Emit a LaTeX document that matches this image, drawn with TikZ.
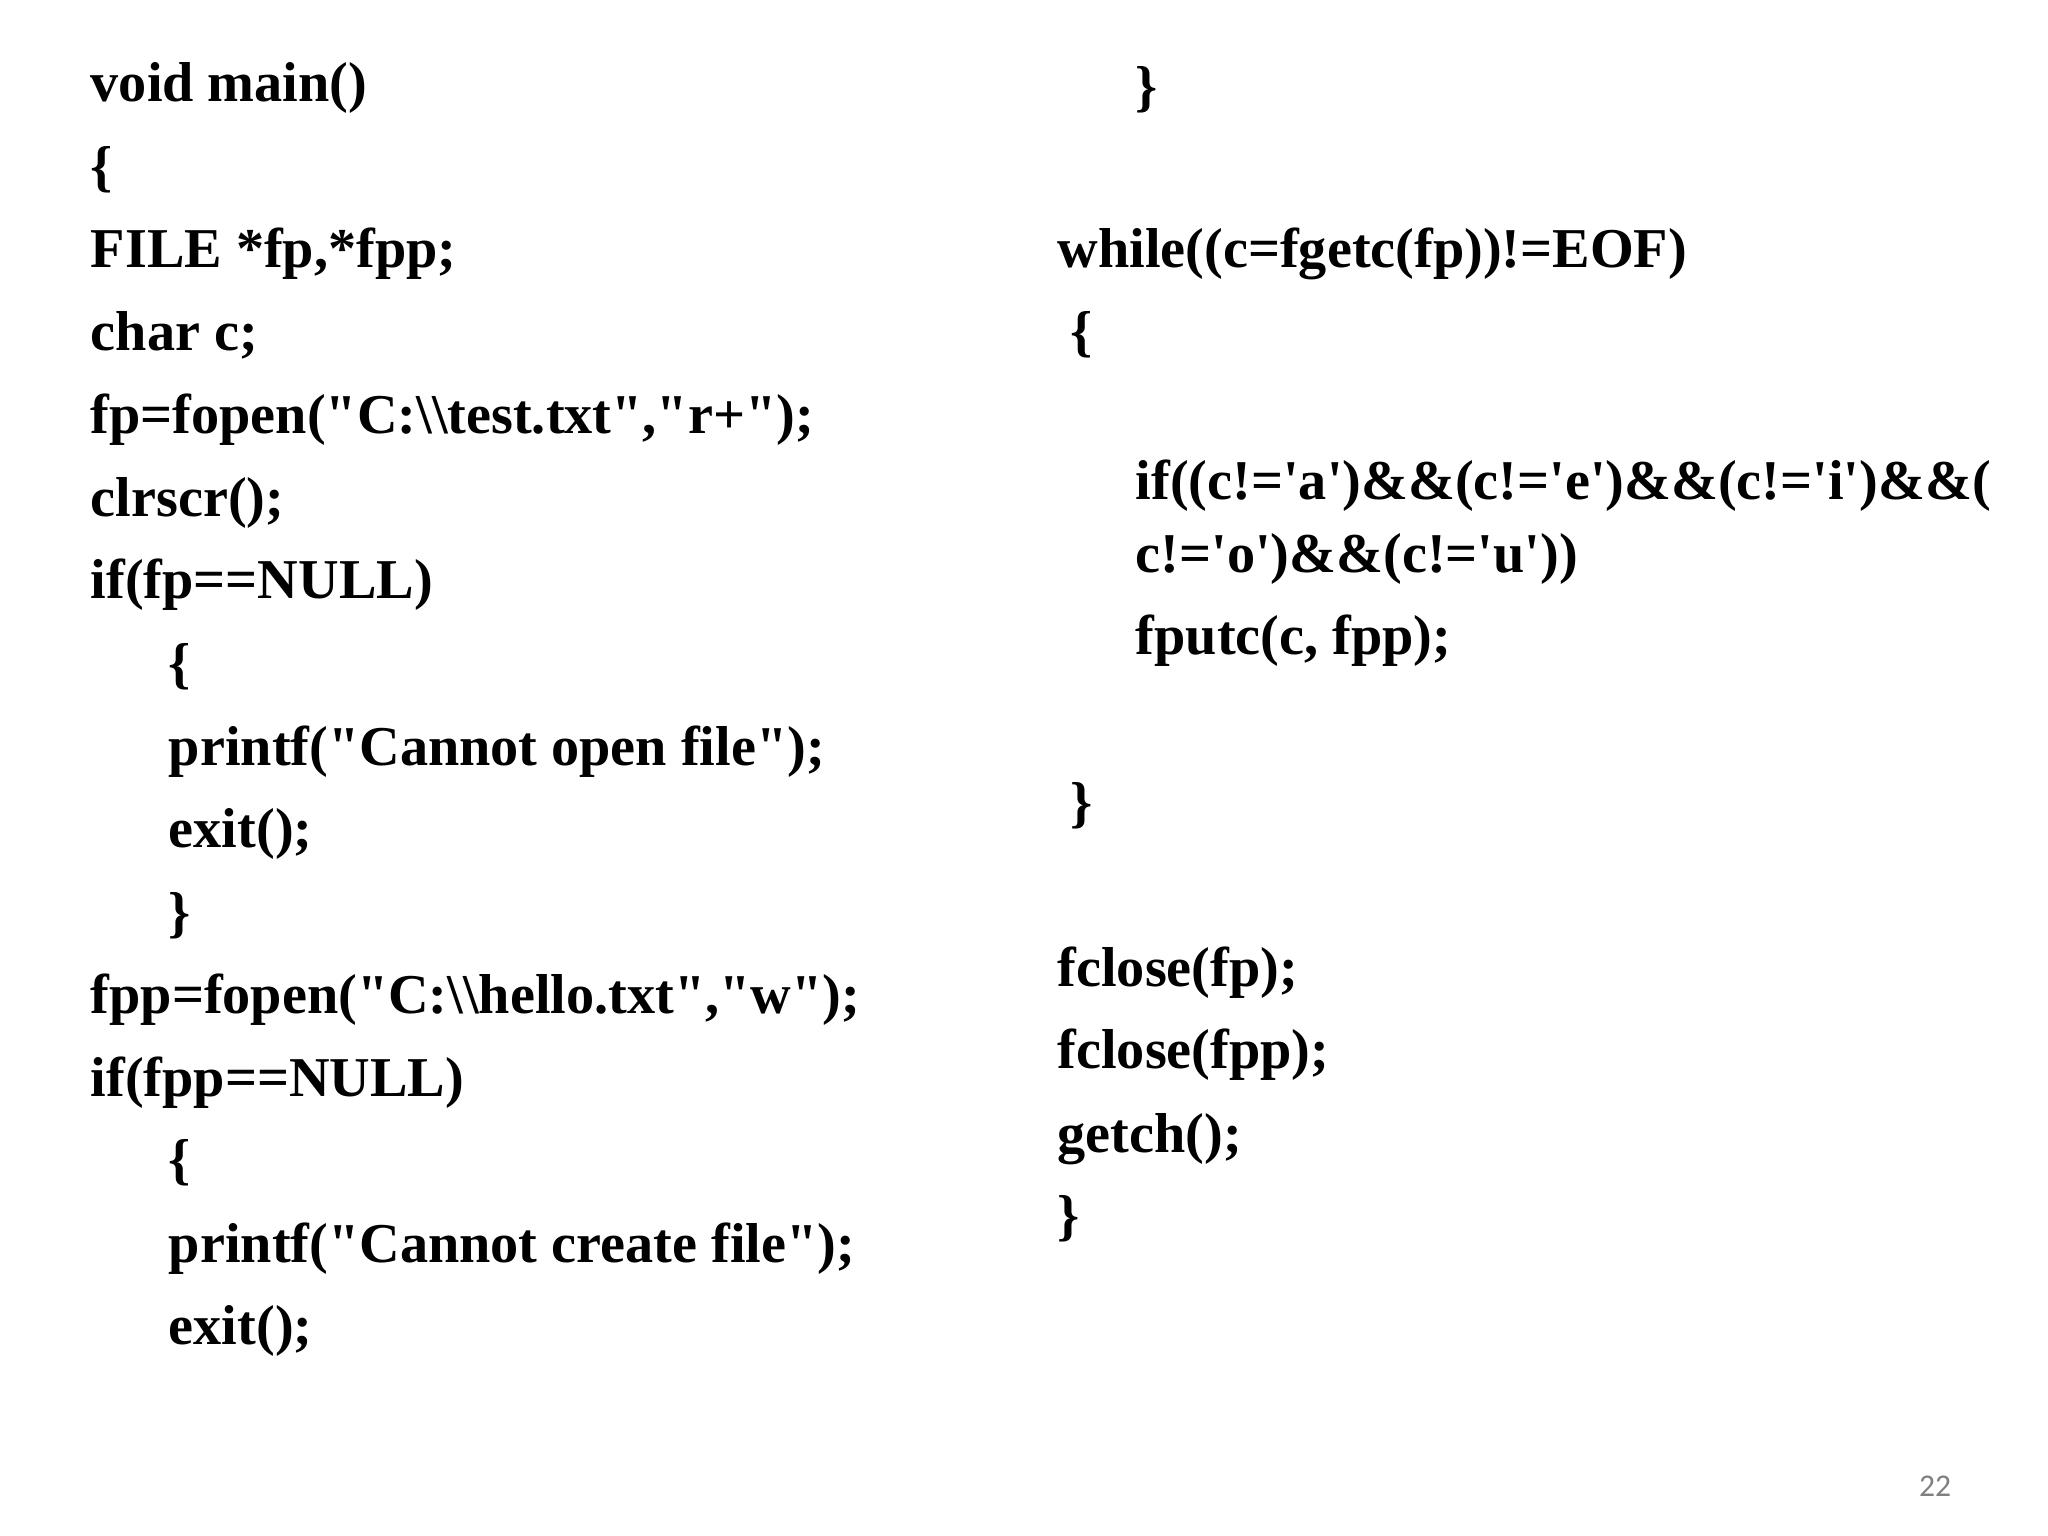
\documentclass[tikz,border=0pt]{standalone}
\usepackage{fontspec}
\setmainfont{Liberation Serif}
\newfontfamily\pgfont{Carlito}
\newcommand\myq{\textquotedbl}
\newcommand\mys{\textquotesingle}
\begin{document}
\begin{tikzpicture}[x=0.013245cm,y=-0.013245cm,
  code/.style={anchor=base west,inner sep=0pt,font=\fontsize{16pt}{19pt}\selectfont\bfseries}]
\useasboundingbox[fill=white] (0,0) rectangle (1546.3,1159.7);
\node[code] (l1) at (68,77) {void main()};
\node[code] (l2) at (68,140) {\{};
\node[code] (l3) at (68,202) {FILE *fp,*fpp;};
\node[code] (l4) at (68,265) {char c;};
\node[code] (l5) at (68,327) {fp=fopen(\myq C:\textbackslash\textbackslash test.txt\myq,\myq r+\myq);};
\node[code] (l6) at (68,390) {clrscr();};
\node[code] (l7) at (68,452) {if(fp==NULL)};
\node[code] (l8) at (127,515) {\{};
\node[code] (l9) at (127,578) {printf(\myq Cannot open file\myq);};
\node[code] (l10) at (127,640) {exit();};
\node[code] (l11) at (127,703) {\}};
\node[code] (l12) at (68,765) {fpp=fopen(\myq C:\textbackslash\textbackslash hello.txt\myq,\myq w\myq);};
\node[code] (l13) at (68,828) {if(fpp==NULL)};
\node[code] (l14) at (127,890) {\{};
\node[code] (l15) at (127,953) {printf(\myq Cannot create file\myq);};
\node[code] (l16) at (127,1015) {exit();};
\node[code] (r1) at (857,80) {\}};
\node[code] (r2) at (798,202) {while((c=fgetc(fp))!=EOF)};
\node[code] (r3) at (808,265) {\{};
\node[code] (r4) at (857,377) {if((c!=\mys a\mys)\&\&(c!=\mys e\mys)\&\&(c!=\mys i\mys)\&\&(};
\node[code] (r5) at (857,432) {c!=\mys o\mys)\&\&(c!=\mys u\mys))};
\node[code] (r6) at (857,494) {fputc(c, fpp);};
\node[code] (r7) at (808,620) {\}};
\node[code] (r8) at (798,745) {fclose(fp);};
\node[code] (r9) at (798,807) {fclose(fpp);};
\node[code] (r10) at (798,870) {getch();};
\node[code] (r11) at (798,932) {\}};
\node[anchor=base,inner sep=0pt,font=\pgfont\fontsize{9pt}{10pt}\selectfont,text=gray] (pg) at (1461,1130) {22};
\end{tikzpicture}
\end{document}
